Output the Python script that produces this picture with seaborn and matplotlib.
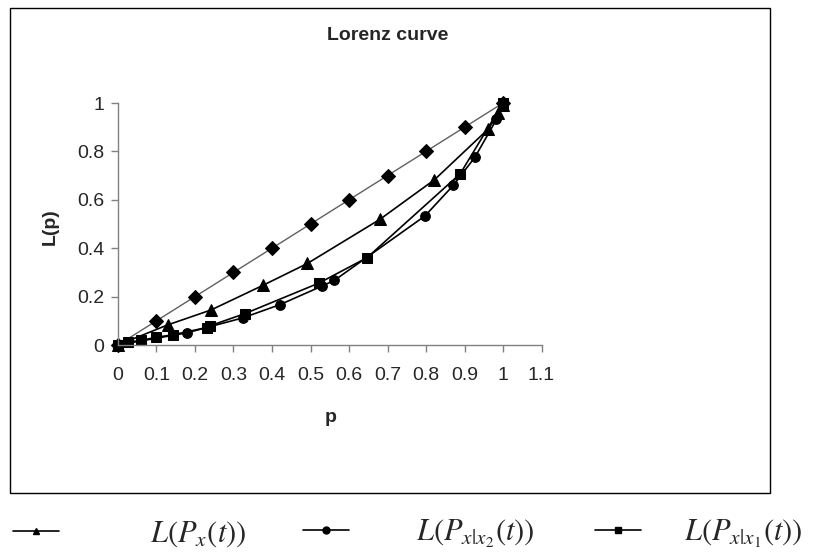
import numpy as np
import pandas as pd
import matplotlib
matplotlib.use("Agg")
import matplotlib.pyplot as plt
from matplotlib.lines import Line2D
from matplotlib.patches import Rectangle
from matplotlib.ticker import FuncFormatter
import seaborn as sns

# Equality line (diamonds)
p_equal = [0, 0.1, 0.2, 0.3, 0.4, 0.5, 0.6, 0.7, 0.8, 0.9, 1.0]
L_equal = [0, 0.1, 0.2, 0.3, 0.4, 0.5, 0.6, 0.7, 0.8, 0.9, 1.0]

# L(P_x(t)) - triangles
p_x = [0, 0.129, 0.242, 0.377, 0.492, 0.68, 0.822, 0.962, 0.988, 1.0]
L_x = [0, 0.083, 0.145, 0.247, 0.337, 0.519, 0.683, 0.893, 0.957, 0.99]

# L(P_x|x2(t)) - circles
p_x2 = [0, 0.178, 0.324, 0.421, 0.529, 0.562, 0.797, 0.871, 0.927, 0.983, 1.0]
L_x2 = [0, 0.05, 0.112, 0.167, 0.243, 0.267, 0.533, 0.66, 0.776, 0.932, 1.0]

# L(P_x|x1(t)) - squares
p_x1 = [0, 0.025, 0.06, 0.1, 0.142, 0.23, 0.24, 0.33, 0.522, 0.647, 0.889, 1.0]
L_x1 = [0, 0.012, 0.019, 0.032, 0.042, 0.072, 0.08, 0.13, 0.256, 0.361, 0.708, 1.0]

x_ticks = [0, 0.1, 0.2, 0.3, 0.4, 0.5, 0.6, 0.7, 0.8, 0.9, 1.0, 1.1]
y_ticks = [0, 0.2, 0.4, 0.6, 0.8, 1.0]

legend_labels = [r"$L\left(P_{x}\left(t\right)\right)$",
                 r"$L\left(P_{x|x_2}\left(t\right)\right)$",
                 r"$L\left(P_{x|x_1}\left(t\right)\right)$"]

sns.set_theme(style="white")
plt.rcParams['font.family'] = ['Liberation Sans', 'DejaVu Sans']
plt.rcParams['mathtext.fontset'] = 'stix'

fig = plt.figure(figsize=(8.21, 5.58), dpi=100)
ax = fig.add_axes([0.1437, 0.3817, 0.5159, 0.4337])

# outer frame of the chart area
fig.patches.append(Rectangle((0.012, 0.1165), 0.926, 0.8695, transform=fig.transFigure,
                             fill=False, edgecolor='black', linewidth=1.0))

common = dict(ax=ax, sort=False, estimator=None, markeredgecolor='black')
sns.lineplot(x=p_equal, y=L_equal, color='#606060', linewidth=1.0, marker='D',
             markersize=7, markerfacecolor='black', **common)
sns.lineplot(x=p_x, y=L_x, color='black', linewidth=1.2, marker='^',
             markersize=8.5, markerfacecolor='black', **common)
sns.lineplot(x=p_x2, y=L_x2, color='black', linewidth=1.2, marker='o',
             markersize=7, markerfacecolor='black', **common)
sns.lineplot(x=p_x1, y=L_x1, color='black', linewidth=1.2, marker='s',
             markersize=7, markerfacecolor='black', **common)

ax.set_xlim(0, 1.1)
ax.set_ylim(0, 1.0)
ax.set_xticks(x_ticks)
ax.set_yticks(y_ticks)
fmt = FuncFormatter(lambda v, pos: f"{v:g}")
ax.xaxis.set_major_formatter(fmt)
ax.yaxis.set_major_formatter(fmt)
ax.tick_params(axis='both', which='major', labelsize=14, length=5, width=1,
               color='#808080', direction='out', bottom=True, left=True)
ax.tick_params(axis='x', pad=11)
ax.tick_params(axis='y', pad=5)
for side in ['top', 'right']:
    ax.spines[side].set_visible(False)
for side in ['left', 'bottom']:
    ax.spines[side].set_color('#808080')
    ax.spines[side].set_linewidth(1)
ax.grid(False)
ax.set_facecolor('none')
for m in ax.lines:
    m.set_clip_on(False)

fig.text(388 / 821, 1 - 35 / 558, "Lorenz curve", ha='center', va='center',
         fontsize=14, fontweight='bold')
fig.text(50 / 821, 1 - 227 / 558, "L(p)", ha='center', va='center',
         fontsize=14, fontweight='bold', rotation=90)
fig.text(331 / 821, 1 - 417 / 558, "p", ha='center', va='center',
         fontsize=14, fontweight='bold')

# legend below the frame, one entry at a time
handles = [Line2D([], [], color='black', lw=1.2, marker='^', markersize=5),
           Line2D([], [], color='black', lw=1.2, marker='o', markersize=5),
           Line2D([], [], color='black', lw=1.2, marker='s', markersize=5)]
starts = [13, 303, 595]
pads = [3.0, 2.2, 1.4]
for h, lab, x0, pad in zip(handles, legend_labels, starts, pads):
    fig.legend(handles=[h], labels=[lab], loc='center left',
               bbox_to_anchor=(x0 / 821, 1 - 534 / 558), frameon=False,
               fontsize=22, handlelength=1.5, handletextpad=pad,
               borderpad=0, borderaxespad=0)

fig.savefig("out.png", dpi=100)
